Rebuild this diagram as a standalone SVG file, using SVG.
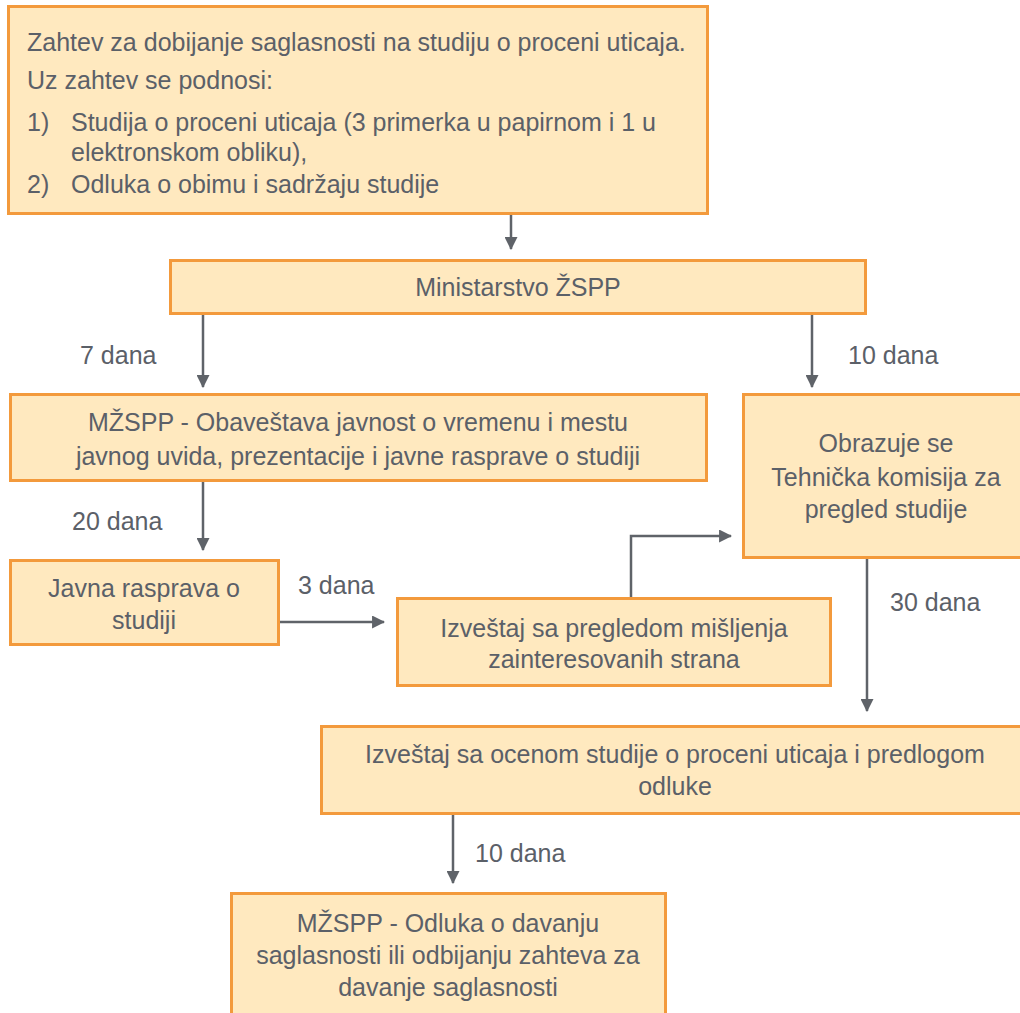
<svg xmlns="http://www.w3.org/2000/svg" width="1020" height="1013" viewBox="0 0 1020 1013">
  <style>
    .box { fill: #FFE9BF; stroke: #F39A3C; stroke-width: 3; }
    .t { font-family: "Liberation Sans", Arial, sans-serif; font-size: 25px; fill: #5B6068; }
    .c { text-anchor: middle; }
    .edge { fill: none; stroke: #5F6369; stroke-width: 2.5; }
  </style>
  <defs>
    <marker id="arrow" viewBox="0 0 12 12" refX="11" refY="6" markerWidth="13" markerHeight="13" markerUnits="userSpaceOnUse" orient="auto">
      <path d="M0,0 L12,6 L0,12 Z" fill="#5F6369"/>
    </marker>
  </defs>
  <rect width="1020" height="1013" fill="#FFFFFF"/>

  <g id="connectors">
    <line class="edge" x1="511" y1="214" x2="511" y2="249" marker-end="url(#arrow)"/>
    <line class="edge" x1="203" y1="314" x2="203" y2="387" marker-end="url(#arrow)"/>
    <line class="edge" x1="812" y1="314" x2="812" y2="387" marker-end="url(#arrow)"/>
    <line class="edge" x1="203" y1="481" x2="203" y2="550" marker-end="url(#arrow)"/>
    <line class="edge" x1="279" y1="622" x2="384" y2="622" marker-end="url(#arrow)"/>
    <polyline class="edge" points="631,598 631,536 731,536" marker-end="url(#arrow)"/>
    <line class="edge" x1="867" y1="558" x2="867" y2="711" marker-end="url(#arrow)"/>
    <line class="edge" x1="453" y1="814" x2="453" y2="883" marker-end="url(#arrow)"/>
    <text class="t" x="80" y="364">7 dana</text>
    <text class="t" x="848" y="364">10 dana</text>
    <text class="t" x="72" y="530">20 dana</text>
    <text class="t" x="298" y="594">3 dana</text>
    <text class="t" x="890" y="611">30 dana</text>
    <text class="t" x="475" y="862">10 dana</text>
  </g>

  <g id="request">
    <rect class="box" x="8.5" y="6.5" width="699" height="207"/>
    <text class="t" x="27" y="51">Zahtev za dobijanje saglasnosti na studiju o proceni uticaja.</text>
    <text class="t" x="27" y="89">Uz zahtev se podnosi:</text>
    <text class="t" x="27" y="131">1)</text>
    <text class="t" x="71" y="131">Studija o proceni uticaja (3 primerka u papirnom i 1 u</text>
    <text class="t" x="71" y="161">elektronskom obliku),</text>
    <text class="t" x="27" y="193">2)</text>
    <text class="t" x="71" y="193">Odluka o obimu i sadržaju studije</text>
  </g>

  <g id="ministry">
    <rect class="box" x="170.5" y="260.5" width="695" height="53"/>
    <text class="t c" x="518" y="296">Ministarstvo ŽSPP</text>
  </g>

  <g id="notice">
    <rect class="box" x="10.5" y="394.5" width="696" height="86"/>
    <text class="t c" x="358" y="431">MŽSPP - Obaveštava javnost o vremenu i mestu</text>
    <text class="t c" x="358" y="465">javnog uvida, prezentacije i javne rasprave o studiji</text>
  </g>

  <g id="commission">
    <rect class="box" x="743.5" y="394.5" width="285" height="163"/>
    <text class="t c" x="886" y="452">Obrazuje se</text>
    <text class="t c" x="886" y="486">Tehnička komisija za</text>
    <text class="t c" x="886" y="518">pregled studije</text>
  </g>

  <g id="hearing">
    <rect class="box" x="10.5" y="560.5" width="268" height="84"/>
    <text class="t c" x="144" y="597">Javna rasprava o</text>
    <text class="t c" x="144" y="629">studiji</text>
  </g>

  <g id="opinions">
    <rect class="box" x="397.5" y="598.5" width="433" height="87"/>
    <text class="t c" x="614" y="637">Izveštaj sa pregledom mišljenja</text>
    <text class="t c" x="614" y="668">zainteresovanih strana</text>
  </g>

  <g id="assessment">
    <rect class="box" x="321.5" y="726.5" width="710" height="87"/>
    <text class="t c" x="675" y="763">Izveštaj sa ocenom studije o proceni uticaja i predlogom</text>
    <text class="t c" x="675" y="795">odluke</text>
  </g>

  <g id="decision">
    <rect class="box" x="231.5" y="893.5" width="434" height="130"/>
    <text class="t c" x="448" y="932">MŽSPP - Odluka o davanju</text>
    <text class="t c" x="448" y="964">saglasnosti ili odbijanju zahteva za</text>
    <text class="t c" x="448" y="996">davanje saglasnosti</text>
  </g>
</svg>
